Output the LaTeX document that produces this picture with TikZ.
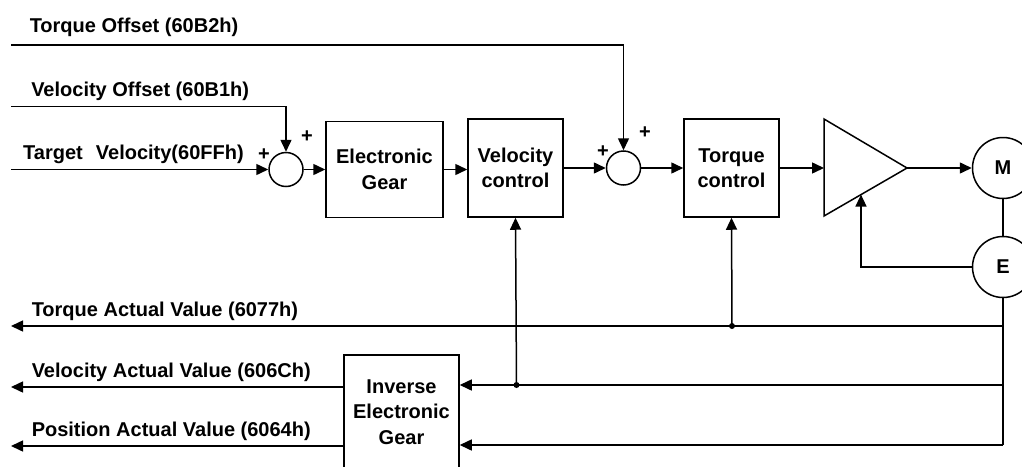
\documentclass[tikz,border=0pt]{standalone}
\usepackage{fontspec}
\setmainfont{Liberation Sans}
\usetikzlibrary{arrows.meta}
\begin{document}
\begin{tikzpicture}[x=1pt,y=-1pt,line width=1.5pt,
  lbl/.style={font=\fontsize{20}{25.5}\selectfont\bfseries, inner sep=0pt},
  blk/.style={draw, align=center, lbl, minimum width=95pt, minimum height=98pt},
  sumj/.style={draw, circle, minimum size=34pt, inner sep=0pt},
  mach/.style={draw, circle, minimum size=61pt, inner sep=0pt, lbl},
  arr/.style={-{Triangle[length=12pt,width=11pt]}},
  dotn/.style={circle, fill, minimum size=6pt, inner sep=0pt},
  txt/.style={lbl, anchor=base west}]
\useasboundingbox (0,0) rectangle (1022,466);
\clip (0,0) rectangle (1022,466);

% labels
\node[txt] (lto) at (29,32) {Torque Offset (60B2h)};
\node[txt] (lvo) at (30.5,96.5) {Velocity Offset (60B1h)};
\node[txt] (ltv) at (22.5,159) {Target\hspace{0.65em}Velocity(60FFh)};
\node[txt] (lta) at (31,316.5) {Torque Actual Value (6077h)};
\node[txt] (lva) at (31,377) {Velocity Actual Value (606Ch)};
\node[txt] (lpa) at (31,436.5) {Position Actual Value (6064h)};

% blocks
\node[sumj] (s1) at (286,169.5) {};
\node[blk, minimum width=117pt, minimum height=96pt] (eg) at (384.5,169.5) {Electronic\\Gear};
\node[blk] (vc) at (515.5,168) {Velocity\\control};
\node[sumj] (s2) at (623.5,168) {};
\node[blk] (tc) at (731.5,168) {Torque\\control};
\node[mach] (m) at (1003,168) {M};
\node[mach] (e) at (1003,267) {E};
\node[blk, minimum width=115pt, minimum height=114pt] (ieg) at (401.5,412) {Inverse\\Electronic\\Gear};

% plus signs
\node[lbl] (p1) at (264,155) {+};
\node[lbl] (p2) at (307,137) {+};
\node[lbl] (p3) at (603,152) {+};
\node[lbl] (p4) at (645,133) {+};

% amplifier
\coordinate (ampA) at (824,119);
\coordinate (ampB) at (824,216);
\coordinate (ampC) at (907,168);
\coordinate (ampIn) at (824,168);
\coordinate (ampFb) at (861,194.6);
\draw (ampA) -- (ampB) -- (ampC) -- cycle;

% inputs
\coordinate (toS) at (11,45);
\coordinate (voS) at (11,106.7);
\coordinate (tvS) at (11,169.5);
\draw[arr] (toS) -| (s2.north);
\draw[arr] (voS) -| (s1.north);
\draw[arr] (tvS) -- (s1.west);

% forward path
\draw[arr] (s1.east) -- (eg.west);
\draw[arr] (eg.east) -- (vc.west |- eg.east);
\draw[arr] (vc.east) -- (s2.west);
\draw[arr] (s2.east) -- (tc.west);
\draw[arr] (tc.east) -- (ampIn);
\draw[arr] (ampC) -- (m.west);
\draw (m.south) -- (e.north);
\draw[arr] (e.west) -| (ampFb);

% feedback
\coordinate (jt) at (1003,326);
\coordinate (jv) at (1003,385);
\coordinate (jp) at (1003,445);
\coordinate (tqE) at (11,326);
\coordinate (vaE) at (11,387);
\coordinate (paE) at (11,446);
\draw (e.south) -- (jp);
\draw[arr] (jt) -- (tqE);
\draw[arr] (jv) -- (ieg.east |- jv);
\draw[arr] (jp) -- (ieg.east |- jp);
\node[dotn] (d1) at (732,326) {};
\node[dotn] (d2) at (516.5,385) {};
\draw[arr] (d1.center) -- (tc.south);
\draw[arr] (d2.center) -- (vc.south);
\draw[arr] (ieg.west |- vaE) -- (vaE);
\draw[arr] (ieg.west |- paE) -- (paE);
\end{tikzpicture}
\end{document}
